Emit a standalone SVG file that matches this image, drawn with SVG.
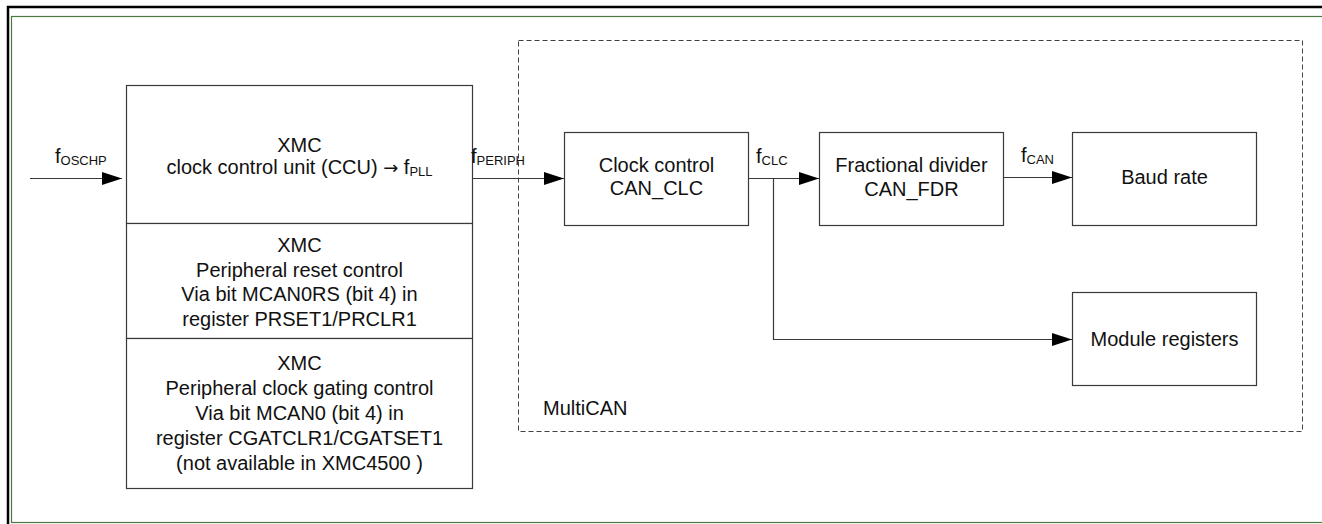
<svg xmlns="http://www.w3.org/2000/svg" width="1322" height="524" viewBox="0 0 1322 524">
<defs>
<style>
.t{font-family:"Liberation Sans",Arial,sans-serif;font-size:20px;fill:#111}
.c{text-anchor:middle}
.s{font-size:13px}
.ar{font-family:"DejaVu Sans",sans-serif;font-size:18px}
.box{fill:#fff;stroke:#3a3a3a;stroke-width:1.2}
.ln{fill:none;stroke:#3a3a3a;stroke-width:1.2}
</style>
<marker id="ah" markerWidth="20" markerHeight="14" refX="20" refY="7" orient="auto" markerUnits="userSpaceOnUse">
<path d="M0,0.5 L20,7 L0,13.5 Z" fill="#000"/>
</marker>
</defs>
<rect x="0" y="0" width="1322" height="524" fill="#fff"/>
<g id="frame">
<rect x="8" y="7" width="1330" height="540" fill="none" stroke="#000" stroke-width="2.5"/>
<rect x="11.5" y="16.5" width="1330" height="506" fill="none" stroke="#4a7a40" stroke-width="1.2"/>
</g>
<g id="multican">
<rect x="518.5" y="40.5" width="784" height="391" fill="none" stroke="#444" stroke-width="1" stroke-dasharray="5,3"/>
<text class="t" x="543" y="415">MultiCAN</text>
</g>
<g id="xmc-ccu">
<rect class="box" x="126.5" y="85.5" width="346" height="138"/>
<text class="t c" x="299.5" y="152">XMC</text>
<text class="t c" x="299.5" y="174">clock control unit (CCU) <tspan class="ar">→</tspan> f<tspan class="s" dy="2">PLL</tspan></text>
</g>
<g id="xmc-reset">
<rect class="box" x="126.5" y="223.5" width="346" height="115"/>
<text class="t c" x="299.5" y="252">XMC</text>
<text class="t c" x="299.5" y="276.5">Peripheral reset control</text>
<text class="t c" x="299.5" y="301">Via bit MCAN0RS (bit 4) in</text>
<text class="t c" x="299.5" y="325.5">register PRSET1/PRCLR1</text>
</g>
<g id="xmc-gating">
<rect class="box" x="126.5" y="338.5" width="346" height="150"/>
<text class="t c" x="299.5" y="370">XMC</text>
<text class="t c" x="299.5" y="395">Peripheral clock gating control</text>
<text class="t c" x="299.5" y="420">Via bit MCAN0 (bit 4) in</text>
<text class="t c" x="299.5" y="444.5">register CGATCLR1/CGATSET1</text>
<text class="t c" x="299.5" y="469.5">(not available in XMC4500 )</text>
</g>
<g id="can-clc">
<rect class="box" x="564.5" y="132.5" width="184" height="93"/>
<text class="t c" x="656.5" y="172">Clock control</text>
<text class="t c" x="656.5" y="195">CAN_CLC</text>
</g>
<g id="can-fdr">
<rect class="box" x="819.5" y="132.5" width="184" height="93"/>
<text class="t c" x="911.5" y="172">Fractional divider</text>
<text class="t c" x="911.5" y="196">CAN_FDR</text>
</g>
<g id="baud-rate">
<rect class="box" x="1072.5" y="132.5" width="184" height="93"/>
<text class="t c" x="1164.5" y="184">Baud rate</text>
</g>
<g id="module-registers">
<rect class="box" x="1072.5" y="292.5" width="184" height="93"/>
<text class="t c" x="1164.5" y="346">Module registers</text>
</g>
<g id="connectors">
<line class="ln" x1="30" y1="178.5" x2="122" y2="178.5" marker-end="url(#ah)"/>
<text class="t" x="55" y="163">f<tspan class="s" dy="2">OSCHP</tspan></text>
<line class="ln" x1="472.5" y1="178.5" x2="564" y2="178.5" marker-end="url(#ah)"/>
<text class="t" x="471" y="163">f<tspan class="s" dy="2">PERIPH</tspan></text>
<line class="ln" x1="748.5" y1="178.5" x2="819" y2="178.5" marker-end="url(#ah)"/>
<text class="t" x="756" y="163">f<tspan class="s" dy="2">CLC</tspan></text>
<polyline class="ln" points="773.5,178.5 773.5,339.5 1072,339.5" marker-end="url(#ah)"/>
<line class="ln" x1="1003.5" y1="177.5" x2="1072" y2="177.5" marker-end="url(#ah)"/>
<text class="t" x="1021" y="162">f<tspan class="s" dy="2">CAN</tspan></text>
</g>
</svg>
